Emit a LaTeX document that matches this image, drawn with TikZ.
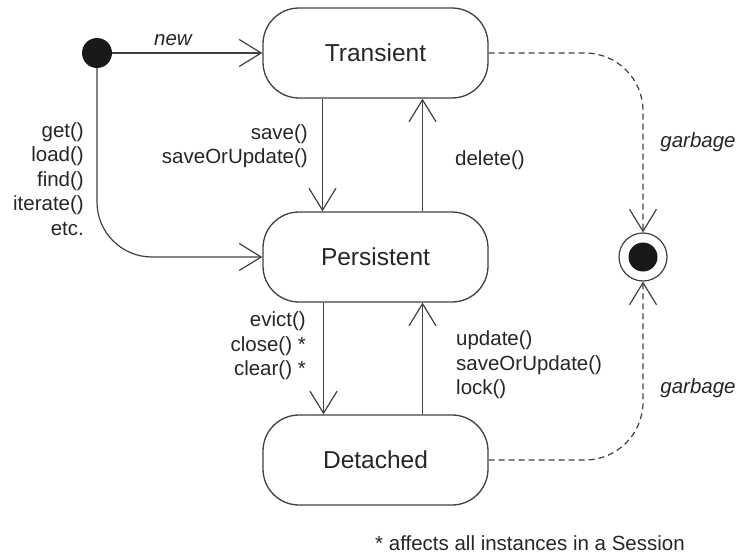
\documentclass[tikz,border=0pt]{standalone}
\usepackage{fontspec}
\setmainfont{Liberation Sans}
\usetikzlibrary{arrows.meta}
\tikzset{
	state/.style={rectangle, rounded corners=36pt, draw=black!75, line width=1.3pt, minimum width=225pt, minimum height=90pt, font=\fontsize{24.5}{29}\selectfont, text=black!85},
	lbl/.style={inner sep=0pt, text=black!85, font=\fontsize{20.5}{24.5}\selectfont},
	arr/.style={draw=black!75, line width=1.2pt, -{Straight Barb[length=22pt,width=27pt,line width=1.2pt]}},
	garb/.style={arr, dashed, dash pattern=on 6pt off 4pt, rounded corners=58pt}
}

\begin{document}
\begin{tikzpicture}[x=1pt, y=-1pt]
			%%%%% START %%%%%
			\useasboundingbox (0, 0) rectangle (740, 554);
			
			\node[state] (trans) at (375.5, 53) {Transient};
			\node[state] (pers) at (375.5, 257) {Persistent};
			\node[state] (det) at (375.5, 460) {Detached};
			
			\node[circle, fill=black!90, inner sep=0pt, minimum size=30pt] (init) at (97, 53) {};
			\node[circle, draw=black!75, line width=1.2pt, inner sep=0pt, minimum size=48pt] (final) at (643, 257) {};
			\node[circle, fill=black!90, inner sep=0pt, minimum size=29pt] (finaldot) at (final) {};
			
			\draw[arr] (init) -- (trans.west);
			\draw[arr, rounded corners=55pt] (init) |- (pers.west);
			
			\draw[arr] ([xshift=-53pt]trans.south) -- ([xshift=-53pt]pers.north);
			\draw[arr] ([xshift=47pt]pers.north) -- ([xshift=47pt]trans.south);
			\draw[arr] ([xshift=-52pt]pers.south) -- ([xshift=-52pt]det.north);
			\draw[arr] ([xshift=47pt]det.north) -- ([xshift=47pt]pers.south);
			
			\draw[garb] (trans.east) -| (final.north);
			\draw[garb] (det.east) -| (final.south);
			
			\node[lbl, font=\fontsize{20.5}{24.5}\selectfont\itshape] (newlbl) at (173, 40) {new};
			\node[lbl, align=right, anchor=east] (getlbl) at (84, 179) {get()\\load()\\find()\\iterate()\\etc.};
			\node[lbl, align=right, anchor=east] (savelbl) at (308, 146) {save()\\saveOrUpdate()};
			\node[lbl, anchor=west] (dellbl) at (455, 160) {delete()};
			\node[lbl, align=right, anchor=east] (evictlbl) at (306, 346) {evict()\\close() *\\clear() *};
			\node[lbl, align=left, anchor=west] (updlbl) at (456, 365) {update()\\saveOrUpdate()\\lock()};
			\node[lbl, font=\fontsize{20.5}{24.5}\selectfont\itshape] (garblbla) at (698, 142) {garbage};
			\node[lbl, font=\fontsize{20.5}{24.5}\selectfont\itshape] (garblblb) at (698, 388) {garbage};
			\node[lbl] (note) at (530, 543) {* affects all instances in a Session};
			%%%%% END %%%%%
		\end{tikzpicture}
\end{document}
